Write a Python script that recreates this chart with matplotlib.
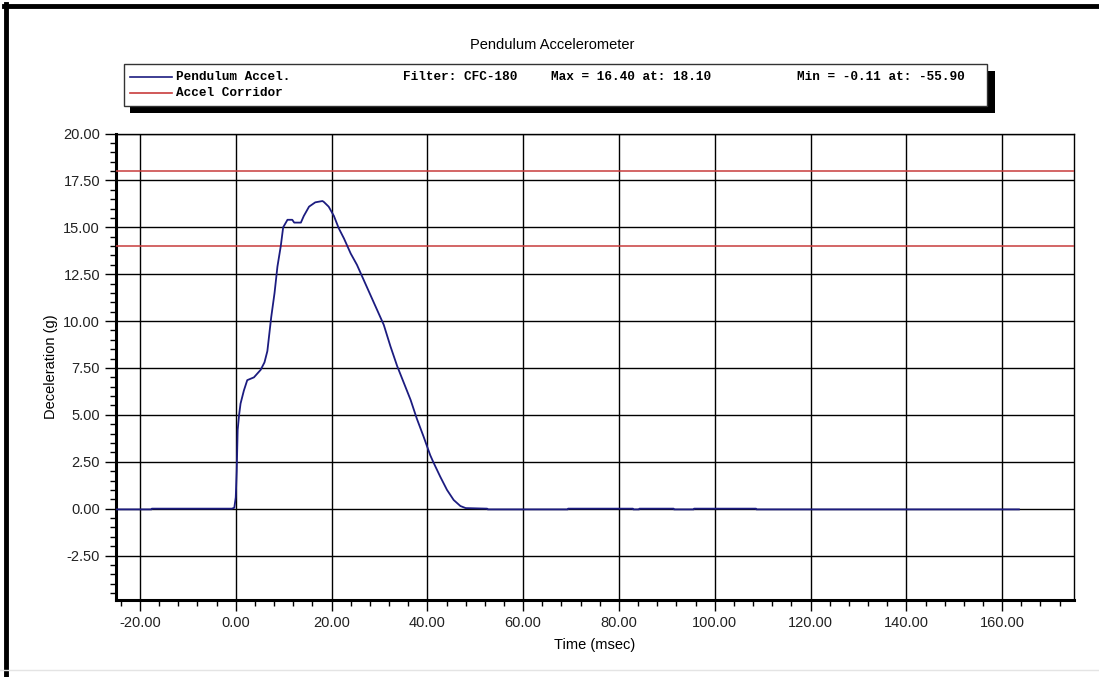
import matplotlib.pyplot as plt
from matplotlib.patches import Rectangle
from matplotlib.lines import Line2D
from matplotlib.ticker import MultipleLocator, FormatStrFormatter

time_ms = [-24.8, -17.6, -17.5, -0.8, -0.3, 0.0, 0.2, 0.4, 0.7, 1.0, 1.7, 2.4,
           3.8, 5.2, 6.0, 6.6, 7.4, 8.1, 8.7, 9.4, 9.9, 10.8, 11.8, 12.2, 13.6,
           14.2, 15.3, 16.6, 18.1, 18.4, 19.4, 20.5, 21.5, 22.6, 24.0, 25.3,
           26.7, 28.1, 29.5, 30.9, 32.3, 33.7, 35.1, 36.5, 37.8, 39.2, 40.6,
           41.3, 42.7, 44.1, 45.5, 46.9, 48.0, 52.5, 52.6, 69.3, 69.4, 82.9,
           83.0, 84.2, 84.3, 91.4, 91.5, 95.6, 95.7, 108.6, 108.7, 163.5]
decel_g = [-0.04, -0.04, 0.0, 0.0, 0.05, 0.6, 2.0, 4.2, 5.0, 5.6, 6.3, 6.85,
           7.0, 7.4, 7.8, 8.4, 10.2, 11.5, 12.9, 14.0, 15.0, 15.4, 15.4, 15.25,
           15.25, 15.6, 16.1, 16.33, 16.40, 16.35, 16.1, 15.6, 14.95, 14.4,
           13.6, 13.0, 12.2, 11.4, 10.6, 9.8, 8.65, 7.6, 6.7, 5.8, 4.8, 3.85,
           2.85, 2.45, 1.7, 1.0, 0.46, 0.14, 0.03, 0.0, -0.04, -0.04, 0.0, 0.0,
           -0.04, -0.04, 0.0, 0.0, -0.04, -0.04, 0.0, 0.0, -0.04, -0.04]
corridor_g = [14.0, 18.0]

title = "Pendulum Accelerometer"
legend_row1 = ["Pendulum Accel.", "Filter: CFC-180",
               "Max = 16.40 at: 18.10", "Min = -0.11 at: -55.90"]
legend_row2 = "Accel Corridor"

W, H = 1099, 677
BLUE = "#1c1c80"
RED = "#c83c3c"
MONO = "Liberation Mono"
SANS = "Liberation Sans"


def fx(px):
    return px / W


def fy(py):
    return 1 - py / H


fig = plt.figure(figsize=(W / 100, H / 100), dpi=100)

# outer window frame
fig.add_artist(Line2D([fx(5.5), fx(5.5)], [fy(4), fy(H)], lw=3.5, color="black"))
fig.add_artist(Line2D([fx(3.5), fx(W)], [fy(6), fy(6)], lw=3.5, color="black"))
fig.add_artist(Line2D([fx(0), fx(W)], [fy(670), fy(670)], lw=1, color="#e4e4e4"))

ax = fig.add_axes([fx(116), fy(600), fx(1074) - fx(116), fy(133.5) - fy(600)])
ax.set_xlim(-25, 175)
ax.set_ylim(-4.87, 20)

ax.xaxis.set_major_locator(MultipleLocator(20))
ax.xaxis.set_minor_locator(MultipleLocator(4))
ax.yaxis.set_major_locator(MultipleLocator(2.5))
ax.yaxis.set_minor_locator(MultipleLocator(0.5))
ax.xaxis.set_major_formatter(FormatStrFormatter("%.2f"))
ax.yaxis.set_major_formatter(FormatStrFormatter("%.2f"))
ax.set_xticks([t for t in range(-20, 161, 20)])

ax.grid(True, which="major", color="black", lw=1)
ax.set_axisbelow(True)
ax.tick_params(which="major", direction="out", length=8, width=1,
               labelsize=10.5, colors="black")
ax.tick_params(which="minor", direction="out", length=4, width=1)
for lab in ax.get_xticklabels() + ax.get_yticklabels():
    lab.set_fontfamily(SANS)
    lab.set_color("#222222")

for side in ["left", "bottom"]:
    ax.spines[side].set_linewidth(2.2)
for side in ["top", "right"]:
    ax.spines[side].set_linewidth(1)

for c in corridor_g:
    ax.axhline(c, color=RED, lw=1.1, zorder=3)
ax.plot(time_ms, decel_g, color=BLUE, lw=1.3, zorder=4)

ax.set_xlabel("Time (msec)", fontfamily=SANS, fontsize=10.5, labelpad=6)
ax.set_ylabel("Deceleration (g)", fontfamily=SANS, fontsize=10.5, labelpad=4)

fig.text(fx(552), fy(45), title, ha="center", va="center",
         fontfamily=SANS, fontsize=10.5)

# legend box with drop shadow
fig.add_artist(Rectangle((fx(130), fy(113)), fx(995) - fx(130), fy(71) - fy(113),
                         facecolor="black", edgecolor="none"))
fig.add_artist(Rectangle((fx(124), fy(106)), fx(987) - fx(124), fy(64) - fy(106),
                         facecolor="white", edgecolor="#333333", lw=1))
fig.add_artist(Line2D([fx(130), fx(172)], [fy(77), fy(77)], color=BLUE, lw=1.2))
fig.add_artist(Line2D([fx(130), fx(172)], [fy(93), fy(93)], color=RED, lw=1.2))
for x0, s in zip([176.5, 403, 551, 797], legend_row1):
    fig.text(fx(x0), fy(77), s, ha="left", va="center", fontfamily=MONO,
             fontsize=9.2, fontweight="bold")
fig.text(fx(176.5), fy(93), legend_row2, ha="left", va="center",
         fontfamily=MONO, fontsize=9.2, fontweight="bold")

fig.savefig("out.png", dpi=100)
